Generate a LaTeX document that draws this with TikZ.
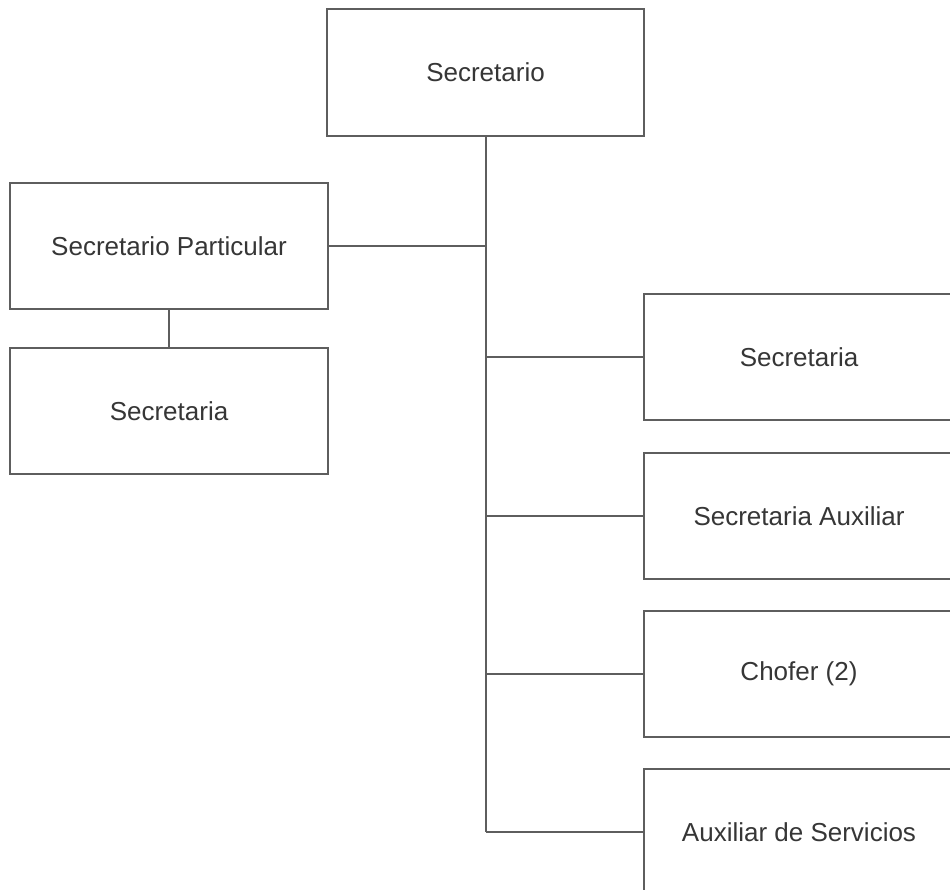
\documentclass[tikz,border=0pt]{standalone}
\usepackage{fontspec}
\setmainfont{Liberation Sans}
\definecolor{linegray}{HTML}{5E5E5E}
\definecolor{textgray}{HTML}{363636}
\begin{document}
\begin{tikzpicture}[x=1pt,y=-1pt,
  box/.style={draw=linegray,line width=1.3pt,fill=white,text=textgray,
    font=\fontsize{26}{31}\selectfont,inner sep=0pt},
  conn/.style={draw=linegray,line width=1.3pt}]
\clip (0,0) rectangle (950,890);
\fill[white] (0,0) rectangle (950,890);
\node[box,minimum width=317pt,minimum height=127pt] (sec) at (485.5,72.5) {Secretario};
\node[box,minimum width=318pt,minimum height=126pt] (part) at (169,246) {Secretario Particular};
\node[box,minimum width=318pt,minimum height=126pt] (secl) at (169,411) {Secretaria};
\node[box,minimum width=310pt,minimum height=126pt] (r1) at (799,357) {Secretaria};
\node[box,minimum width=310pt,minimum height=126pt] (r2) at (799,516) {Secretaria Auxiliar};
\node[box,minimum width=310pt,minimum height=126pt] (r3) at (799,674) {Chofer (2)};
\node[box,minimum width=310pt,minimum height=126pt] (r4) at (799,832) {Auxiliar de Servicios};
\coordinate (trunk) at (486,246);
\coordinate (bot) at (486,832);
\draw[conn] (sec.south -| trunk) -- (bot);
\draw[conn] (part.east) -- (trunk);
\draw[conn] (part.south) -- (secl.north);
\draw[conn] (r1.west -| trunk) -- (r1.west);
\draw[conn] (r2.west -| trunk) -- (r2.west);
\draw[conn] (r3.west -| trunk) -- (r3.west);
\draw[conn] (bot) -- (r4.west);
\end{tikzpicture}
\end{document}
